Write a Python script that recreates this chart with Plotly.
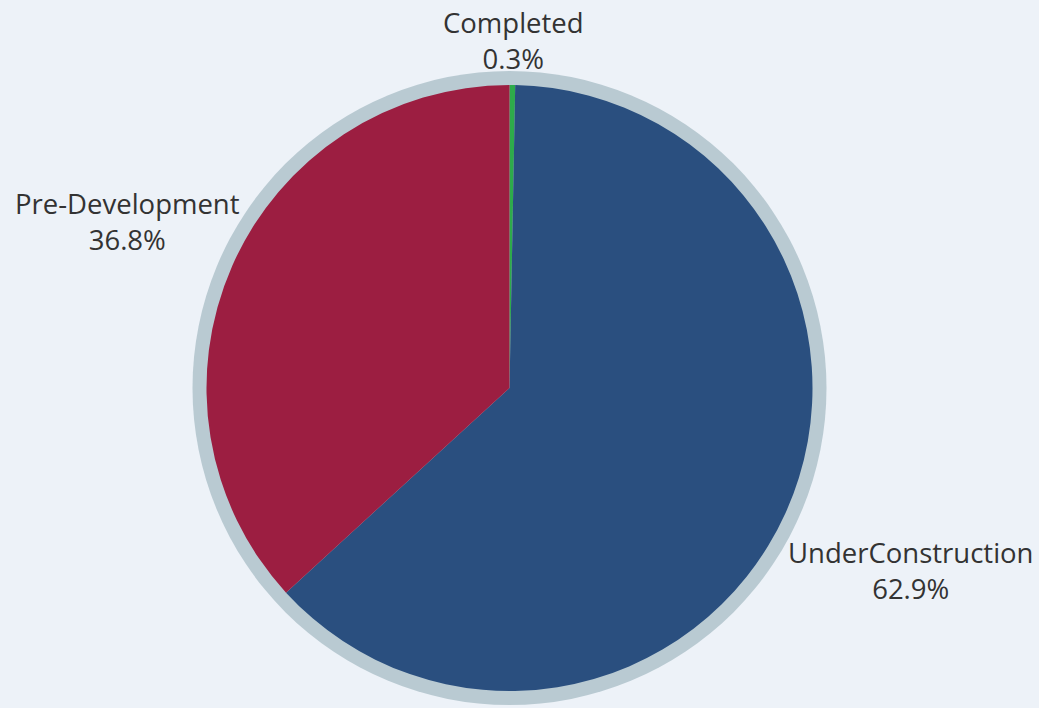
import plotly.graph_objects as go

labels = ["Completed", "UnderConstruction", "Pre-Development"]
values = [0.3, 62.9, 36.8]
colors = ["#2eab4b", "#2a4f7f", "#9c1e41"]

# label block centres in pixels (layout only)
label_pos = [(513, 41), (911, 570), (127, 221)]

W, H = 1039, 708
cx, cy, r, ring = 509.5, 388, 303, 317

total = sum(values)
fig = go.Figure(go.Pie(
    labels=labels,
    values=values,
    sort=False,
    direction="clockwise",
    rotation=0,
    marker=dict(colors=colors, line=dict(width=0)),
    textinfo="none",
    hoverinfo="label+percent",
    showlegend=False,
    domain=dict(x=[(cx - r) / W, (cx + r) / W], y=[(H - cy - r) / H, (H - cy + r) / H]),
))

annotations = []
for lab, val, (px, py) in zip(labels, values, label_pos):
    annotations.append(dict(
        text=f"{lab}<br>{val / total * 100:.1f}%",
        xref="paper", yref="paper", x=px / W, y=1 - py / H,
        xanchor="center", yanchor="middle", showarrow=False,
        font=dict(family="Open Sans", size=27.5, color="#333333"),
        align="center",
    ))

fig.update_layout(
    width=W, height=H,
    margin=dict(l=0, r=0, t=0, b=0),
    paper_bgcolor="#edf2f8",
    plot_bgcolor="#edf2f8",
    annotations=annotations,
    shapes=[dict(
        type="circle", xref="paper", yref="paper", layer="below",
        x0=(cx - ring) / W, x1=(cx + ring) / W,
        y0=(H - cy - ring) / H, y1=(H - cy + ring) / H,
        fillcolor="#b9cad2", line=dict(width=0),
    )],
)

fig.write_html(
    "out.html",
    config={"displayModeBar": False},
    post_script="document.body.style.margin='0';document.body.style.background='#edf2f8';",
)
